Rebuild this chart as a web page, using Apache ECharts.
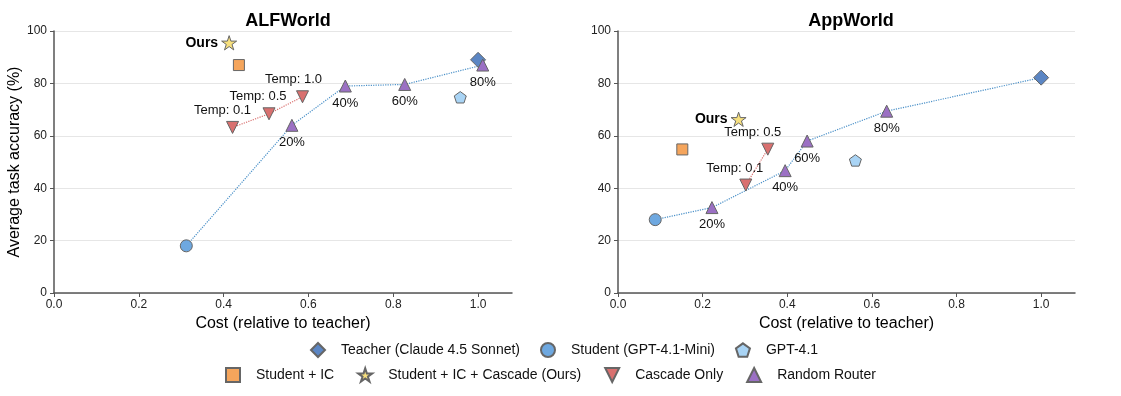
<!DOCTYPE html>
<html>
<head>
<meta charset="utf-8">
<script src="https://cdn.jsdelivr.net/npm/echarts@6/dist/echarts.min.js"></script>
<style>
html,body{margin:0;padding:0;background:#fff}
#chart{width:1121px;height:396px}
</style>
</head>
<body>
<div id="chart"></div>
<script>
// ---- ALFWorld ----
const alfTeacherCost = [1.0];
const alfTeacherAcc = [89];
const alfStudentCost = [0.312];
const alfStudentAcc = [18];
const alfGptCost = [0.958];
const alfGptAcc = [74.7];
const alfIcCost = [0.436];
const alfIcAcc = [87];
const alfOursCost = [0.413];
const alfOursAcc = [95.5];
const alfCascadeCost = [0.421, 0.507, 0.586];
const alfCascadeAcc = [63.2, 68.4, 74.9];
const alfCascadeLabels = ["Temp: 0.1", "Temp: 0.5", "Temp: 1.0"];
const alfRouterCost = [0.561, 0.687, 0.827, 1.011];
const alfRouterAcc = [64, 79, 79.6, 87];

// ---- AppWorld ----
const appTeacherCost = [1.0];
const appTeacherAcc = [82.2];
const appStudentCost = [0.088];
const appStudentAcc = [28];
const appGptCost = [0.561];
const appGptAcc = [50.6];
const appIcCost = [0.152];
const appIcAcc = [54.8];
const appOursCost = [0.285];
const appOursAcc = [66.3];
const appCascadeCost = [0.302, 0.354];
const appCascadeAcc = [41.2, 54.9];
const appCascadeLabels = ["Temp: 0.1", "Temp: 0.5"];
const appRouterCost = [0.222, 0.395, 0.447, 0.635];
const appRouterAcc = [32.6, 46.7, 58, 69.4];

const routerLabels = ["20%", "40%", "60%", "80%"];
const xTicks = [0, 0.2, 0.4, 0.6, 0.8, 1.0];

const NAMES = {
  teacher: "Teacher (Claude 4.5 Sonnet)",
  student: "Student (GPT-4.1-Mini)",
  gpt: "GPT-4.1",
  ic: "Student + IC",
  ours: "Student + IC + Cascade (Ours)",
  cascade: "Cascade Only",
  router: "Random Router",
};

const FONT = "Liberation Sans";
const STAR = "path://M50,2 L61.2,36.6 L97.6,36.6 L68.2,58 L79.4,92.6 L50,71.2 L20.6,92.6 L31.8,58 L2.4,36.6 L38.8,36.6 Z";
const PENTA = "path://M50,0 L97.6,34.5 L79.4,90.5 L20.6,90.5 L2.4,34.5 Z";
const DOWN = "path://M0,0 L100,0 L50,100 Z";
const EDGE = { borderColor: "#666", borderWidth: 1 };

const pts = (xs, ys) => xs.map((x, i) => [x, ys[i]]);

const scatter = (idx, name, xs, ys, symbol, size, color, extra) =>
  Object.assign(
    {
      type: "scatter",
      name: name,
      xAxisIndex: idx,
      yAxisIndex: idx,
      symbol: symbol,
      symbolSize: size,
      symbolKeepAspect: true,
      itemStyle: Object.assign({ color: color, opacity: 1 }, EDGE),
      data: pts(xs, ys),
      z: 5,
    },
    extra || {}
  );

const dotted = (idx, name, data, color) => ({
  type: "line",
  name: name,
  xAxisIndex: idx,
  yAxisIndex: idx,
  symbol: "none",
  silent: true,
  lineStyle: { color: color, width: 1.2, type: "dotted" },
  data: data,
  z: 2,
});

const labelled = (xs, ys, labels, pos, offsets) =>
  xs.map((x, i) => ({
    value: [x, ys[i]],
    label: {
      show: true,
      position: pos,
      formatter: labels[i],
      offset: offsets ? offsets[i] : [0, 0],
      fontFamily: FONT,
      fontSize: 13,
      color: "#111",
      distance: 4,
    },
  }));

const panel = (idx, d, cascadeOffsets) => [
  dotted(idx, "router-line", [pts(d.sc, d.sa)[0]].concat(pts(d.rc, d.ra), pts(d.tc, d.ta)), "#4a90c8"),
  dotted(idx, "cascade-line", pts(d.cc, d.ca), "#d9706f"),
  scatter(idx, NAMES.teacher, d.tc, d.ta, "diamond", 15, "#5b86c4"),
  scatter(idx, NAMES.student, d.sc, d.sa, "circle", 12, "#6ea8e0"),
  scatter(idx, NAMES.gpt, d.gc, d.ga, PENTA, 12, "#a9d4f5"),
  scatter(idx, NAMES.ic, d.ic, d.ia, "rect", 11, "#f5a55c"),
  scatter(idx, NAMES.ours, d.oc, d.oa, STAR, 15, "#f7e07e", {
    label: { show: true, position: "left", distance: 3, formatter: "Ours",
      fontFamily: FONT, fontSize: 14, fontWeight: "bold", color: "#000" },
  }),
  scatter(idx, NAMES.cascade, [], [], DOWN, 12, "#d9706f", {
    data: labelled(d.cc, d.ca, d.cl, "top", cascadeOffsets),
  }),
  scatter(idx, NAMES.router, [], [], "triangle", 12, "#9b70c4", {
    data: labelled(d.rc, d.ra, routerLabels, "bottom"),
    z: 6,
  }),
];

const xAxis = (idx) => ({
  type: "value",
  gridIndex: idx,
  min: 0,
  max: 1.08,
  interval: 0.2,
  name: "Cost (relative to teacher)",
  nameLocation: "middle",
  nameGap: 23,
  nameTextStyle: { fontFamily: FONT, fontSize: 16, color: "#000" },
  axisLine: { show: true, lineStyle: { color: "#555", width: 1.5 } },
  axisTick: { show: true, length: 4, lineStyle: { color: "#555" }, customValues: xTicks },
  axisLabel: { fontFamily: FONT, fontSize: 12, color: "#222", margin: 6,
    customValues: xTicks, formatter: (v) => v.toFixed(1) },
  splitLine: { show: false },
});

const yAxis = (idx, withName) => ({
  type: "value",
  gridIndex: idx,
  min: 0,
  max: 100,
  interval: 20,
  name: withName ? "Average task accuracy (%)" : "",
  nameLocation: "middle",
  nameGap: 31,
  nameTextStyle: { fontFamily: FONT, fontSize: 16, color: "#000" },
  axisLine: { show: true, lineStyle: { color: "#555", width: 1.5 } },
  axisTick: { show: true, length: 4, lineStyle: { color: "#555" } },
  axisLabel: { fontFamily: FONT, fontSize: 12, color: "#222", margin: 7 },
  splitLine: { show: true, lineStyle: { color: "#e6e6e6", width: 1 } },
});

const legendBase = {
  itemWidth: 14,
  itemHeight: 14,
  itemGap: 20,
  textStyle: { fontFamily: FONT, fontSize: 14, color: "#111", padding: [0, 0, 0, 11] },
};

const option = {
  backgroundColor: "#fff",
  animation: false,
  title: [
    { text: "ALFWorld", left: 283, top: 7, textAlign: "center",
      textStyle: { fontFamily: FONT, fontSize: 18, fontWeight: "bold", color: "#000" } },
    { text: "AppWorld", left: 846, top: 7, textAlign: "center",
      textStyle: { fontFamily: FONT, fontSize: 18, fontWeight: "bold", color: "#000" } },
  ],
  grid: [
    { left: 54, right: 609, top: 31, bottom: 103 },
    { left: 618, right: 46, top: 31, bottom: 103 },
  ],
  xAxis: [xAxis(0), xAxis(1)],
  yAxis: [yAxis(0, true), yAxis(1, false)],
  legend: [
    Object.assign({}, legendBase, { top: 337, left: 305,
      data: [NAMES.teacher, NAMES.student, NAMES.gpt] }),
    Object.assign({}, legendBase, { top: 362, left: 220, itemGap: 23,
      data: [NAMES.ic, NAMES.ours, { name: NAMES.cascade, icon: DOWN }, NAMES.router] }),
  ],
  series: [].concat(
    panel(0, {
      tc: alfTeacherCost, ta: alfTeacherAcc, sc: alfStudentCost, sa: alfStudentAcc,
      gc: alfGptCost, ga: alfGptAcc, ic: alfIcCost, ia: alfIcAcc,
      oc: alfOursCost, oa: alfOursAcc, cc: alfCascadeCost, ca: alfCascadeAcc,
      cl: alfCascadeLabels, rc: alfRouterCost, ra: alfRouterAcc,
    }, [[-10, 0], [-11, 0], [-9, 0]]),
    panel(1, {
      tc: appTeacherCost, ta: appTeacherAcc, sc: appStudentCost, sa: appStudentAcc,
      gc: appGptCost, ga: appGptAcc, ic: appIcCost, ia: appIcAcc,
      oc: appOursCost, oa: appOursAcc, cc: appCascadeCost, ca: appCascadeAcc,
      cl: appCascadeLabels, rc: appRouterCost, ra: appRouterAcc,
    }, [[-11, 0], [-15, 0]])
  ),
};

const chart = echarts.init(document.getElementById("chart"));
chart.setOption(option);
</script>
</body>
</html>
